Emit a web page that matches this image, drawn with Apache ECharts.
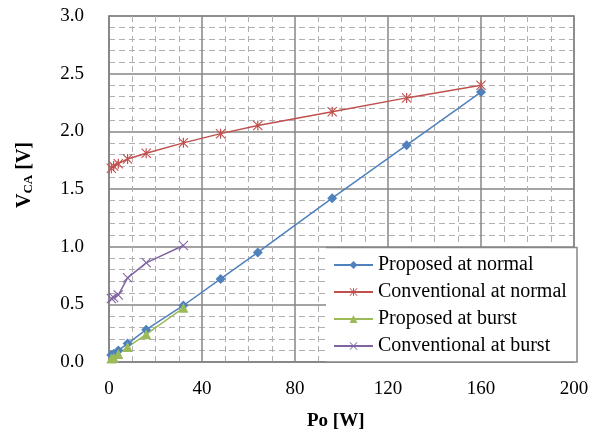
<!DOCTYPE html>
<html>
<head>
<meta charset="utf-8">
<script src="https://cdn.jsdelivr.net/npm/echarts@6/dist/echarts.min.js"></script>
<style>html,body{margin:0;padding:0;background:#fff;}#c{width:603px;height:439px;}</style>
</head>
<body>
<div id="c"></div>
<script>
var seriesNames = ['Proposed at normal', 'Conventional at normal', 'Proposed at burst', 'Conventional at burst'];
var xNormal = [1, 2, 4, 8, 16, 32, 48, 64, 96, 128, 160];
var proposedNormal = [0.06, 0.07, 0.10, 0.16, 0.28, 0.49, 0.72, 0.95, 1.42, 1.88, 2.34];
var conventionalNormal = [1.68, 1.70, 1.72, 1.76, 1.81, 1.90, 1.98, 2.05, 2.17, 2.29, 2.40];
var xBurst = [1, 2, 4, 8, 16, 32];
var proposedBurst = [0.03, 0.04, 0.07, 0.13, 0.24, 0.47];
var conventionalBurst = [0.55, 0.56, 0.58, 0.73, 0.86, 1.01];
var xTicks = [0, 40, 80, 120, 160, 200];
var yTicks = [0.0, 0.5, 1.0, 1.5, 2.0, 2.5, 3.0];

function pairs(xs, ys) { return xs.map(function (x, i) { return [x, ys[i]]; }); }

var FONT = 'Liberation Serif';
var starPath = 'path://M1.5,0 L20,18.5 L18.5,20 L0,1.5 Z M18.5,0 L20,1.5 L1.5,20 L0,18.5 Z M8.8,0 L11.2,0 L11.2,20 L8.8,20 Z';
var xPath = 'path://M1.5,0 L20,18.5 L18.5,20 L0,1.5 Z M18.5,0 L20,1.5 L1.5,20 L0,18.5 Z';
var colors = ['#4F81BD', '#C0504D', '#9BBB59', '#8064A2'];
var GRID = '#868686';

var chart = echarts.init(document.getElementById('c'));
chart.setOption({
  animation: false,
  backgroundColor: '#fff',
  grid: { left: 109, right: 29, top: 16, bottom: 77, show: true, borderColor: GRID, borderWidth: 1.5 },
  xAxis: {
    type: 'value', min: xTicks[0], max: xTicks[xTicks.length - 1], interval: 40,
    axisLine: { show: true, lineStyle: { color: GRID, width: 1.5 } },
    axisTick: { show: false },
    minorTick: { show: false, splitNumber: 4 },
    axisLabel: { fontFamily: FONT, fontSize: 19, color: '#000', margin: 18 },
    splitLine: { show: true, lineStyle: { color: GRID, width: 1.5 } },
    minorSplitLine: { show: true, lineStyle: { color: '#b0b0b0', width: 1, type: [6, 4] } }
  },
  yAxis: {
    type: 'value', min: yTicks[0], max: yTicks[yTicks.length - 1], interval: 0.5,
    axisLine: { show: true, lineStyle: { color: GRID, width: 1.5 } },
    axisTick: { show: false },
    minorTick: { show: false, splitNumber: 5 },
    axisLabel: { fontFamily: FONT, fontSize: 19, color: '#000', margin: 25, formatter: function (v) { return v.toFixed(1); } },
    splitLine: { show: true, lineStyle: { color: GRID, width: 1.5 } },
    minorSplitLine: { show: true, lineStyle: { color: '#b0b0b0', width: 1, type: [6, 4] } }
  },
  legend: {
    orient: 'vertical', left: 333, top: 255,
    padding: 0,
    itemWidth: 39, itemHeight: 10, itemGap: 7,
    textStyle: { fontFamily: FONT, fontSize: 20, color: '#000', lineHeight: 19 },
    data: seriesNames
  },
  graphic: [
    { type: 'rect', z: 3, shape: { x: 326, y: 248, width: 251, height: 114 },
      style: { fill: '#fff' } },
    { type: 'polyline', z: 3, shape: { points: [[326, 247.5], [577, 247.5], [577, 362], [326, 362]] },
      style: { fill: null, stroke: GRID, lineWidth: 1.5 } },
    { type: 'text', x: 307, y: 412,
      style: { text: 'Po [W]', font: 'bold 19px "Liberation Serif"', fill: '#000' } },
    { type: 'text', x: 25, y: 175, rotation: Math.PI / 2,
      style: {
        text: '{a|V}{b|CA}{a| [V]}', align: 'center', verticalAlign: 'middle',
        rich: {
          a: { fontFamily: FONT, fontWeight: 'bold', fontSize: 20, fill: '#000', verticalAlign: 'bottom' },
          b: { fontFamily: FONT, fontWeight: 'bold', fontSize: 13, fill: '#000', verticalAlign: 'bottom' }
        }
      } }
  ],
  series: [
    { name: seriesNames[0], type: 'line', data: pairs(xNormal, proposedNormal), color: colors[0],
      symbol: 'diamond', symbolSize: 10, lineStyle: { width: 1.5 } },
    { name: seriesNames[1], type: 'line', data: pairs(xNormal, conventionalNormal), color: colors[1],
      symbol: starPath, symbolSize: 10, lineStyle: { width: 1.5 } },
    { name: seriesNames[2], type: 'line', data: pairs(xBurst, proposedBurst), color: colors[2],
      symbol: 'triangle', symbolSize: 10, lineStyle: { width: 1.5 } },
    { name: seriesNames[3], type: 'line', data: pairs(xBurst, conventionalBurst), color: colors[3],
      symbol: xPath, symbolSize: 10, lineStyle: { width: 1.5 } }
  ]
});
</script>
</body>
</html>
